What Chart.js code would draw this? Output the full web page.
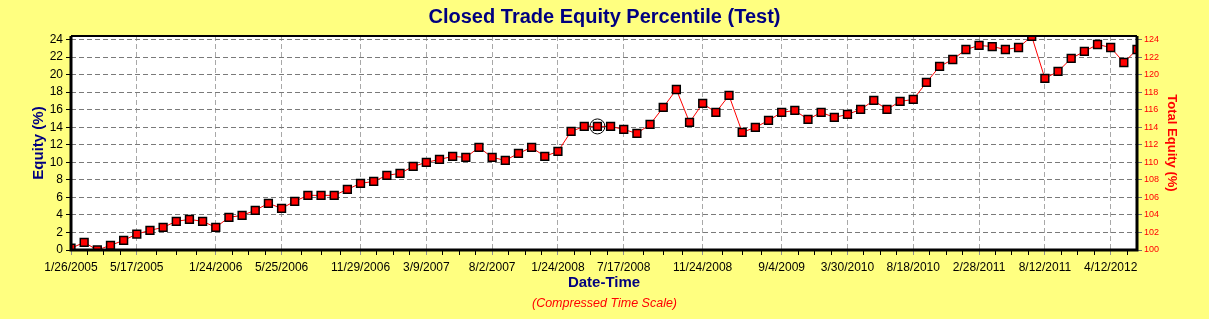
<!DOCTYPE html>
<html><head><meta charset="utf-8">
<script src="https://cdn.jsdelivr.net/npm/chart.js@4/dist/chart.umd.min.js"></script>
<style>html,body{margin:0;padding:0;background:#ffff80;}#wrap{width:1209px;height:319px;}</style>
</head><body><div id="wrap"><canvas id="c" width="1209" height="319"></canvas></div>
<script>
// Equity (%) per closed trade, in order
const equity = [
  0.20, 0.87, 0.00, 0.53, 1.10, 1.82, 2.24, 2.58, 3.27, 3.49,
  3.27, 2.58, 3.72, 3.95, 4.52, 5.32, 4.75, 5.55, 6.23, 6.23,
  6.23, 6.91, 7.60, 7.82, 8.51, 8.74, 9.53, 9.99, 10.33, 10.67,
  10.56, 11.70, 10.56, 10.22, 11.01, 11.70, 10.67, 11.24, 13.52, 14.09,
  14.09, 14.09, 13.75, 13.29, 14.32, 16.25, 18.30, 14.55, 16.71, 15.69,
  17.62, 13.41, 13.98, 14.77, 15.69, 15.91, 14.89, 15.69, 15.12, 15.46,
  16.03, 17.05, 16.03, 16.94, 17.17, 19.10, 20.93, 21.72, 22.86, 23.32,
  23.20, 22.86, 23.09, 24.37, 19.56, 20.36, 21.84, 22.64, 23.43, 23.09,
  21.38, 22.86
];
// Date tick labels and the trade index where each appears
const tickDates = ["1/26/2005","5/17/2005","1/24/2006","5/25/2006","11/29/2006","3/9/2007","8/2/2007","1/24/2008",
                   "7/17/2008","11/24/2008","9/4/2009","3/30/2010","8/18/2010","2/28/2011","8/12/2011","4/12/2012"];
const tickIndex = [0,5,11,16,22,27,32,37,42,48,54,59,64,69,74,79];
const highlightIndex = 40;
const equityBase = 100; // Total Equity (%) = 100 + Equity (%)
const yMin = 0, yMax = 24.4;

const FONT = "'Liberation Sans', Arial, sans-serif";
const nPts = equity.length;
const points = equity.map((v, i) => ({x: i, y: v}));

function xTicks() {
  const t = [];
  for (let k = 0; k < tickIndex.length - 1; k++) {
    const a = tickIndex[k], b = tickIndex[k + 1];
    for (let j = 0; j < 4; j++) t.push({value: a + j * (b - a) / 4});
  }
  const last = tickIndex[tickIndex.length - 1];
  const step = (last - tickIndex[tickIndex.length - 2]) / 4;
  for (let v = last; v <= nPts - 1 + 1e-9; v += step) t.push({value: v});
  return t;
}
function yTicks(lo, hi) {
  const t = [];
  for (let v = lo; v <= hi + 1e-9; v += 0.5) t.push({value: v});
  return t;
}

const bgPlugin = {
  id: 'bg',
  beforeDraw(chart) {
    const {ctx, chartArea: a} = chart;
    ctx.save();
    ctx.fillStyle = '#ffff80';
    ctx.fillRect(0, 0, chart.width, chart.height);
    ctx.fillStyle = '#ffffff';
    ctx.fillRect(a.left, a.top, a.right - a.left, a.bottom - a.top);
    ctx.restore();
  },
  afterDatasetsDraw(chart) {
    const {ctx, chartArea: a} = chart;
    ctx.save();
    ctx.setLineDash([]);
    ctx.strokeStyle = '#000';
    ctx.lineWidth = 2;
    ctx.beginPath(); ctx.moveTo(a.left, a.top); ctx.lineTo(a.right, a.top); ctx.stroke();
    ctx.lineWidth = 3;
    ctx.beginPath();
    ctx.moveTo(a.left, a.top); ctx.lineTo(a.left, a.bottom); ctx.lineTo(a.right, a.bottom); ctx.lineTo(a.right, a.top);
    ctx.stroke();
    ctx.restore();
  }
};

new Chart(document.getElementById('c'), {
  type: 'line',
  data: {
    datasets: [{
      data: points,
      borderColor: '#ff0000',
      borderWidth: 1,
      pointStyle: 'rect',
      pointRadius: 5.5,
      pointBackgroundColor: '#ff0000',
      pointBorderColor: '#000000',
      pointBorderWidth: 1.5,
      tension: 0,
      clip: 0,
      yAxisID: 'y',
      order: 2
    }, {
      data: [{x: highlightIndex, y: equity[highlightIndex]}],
      showLine: false,
      pointStyle: 'circle',
      pointRadius: 7.5,
      pointBackgroundColor: 'rgba(0,0,0,0)',
      pointBorderColor: '#000000',
      pointBorderWidth: 1,
      yAxisID: 'y',
      order: 1
    }]
  },
  options: {
    responsive: false,
    devicePixelRatio: 1,
    animation: false,
    layout: {padding: 0},
    plugins: {
      legend: {display: false},
      tooltip: {enabled: false},
      title: {
        display: true,
        text: 'Closed Trade Equity Percentile (Test)',
        color: '#000080',
        font: {family: FONT, size: 20, weight: 'bold', lineHeight: 1.2},
        padding: {top: 5, bottom: 7}
      },
      subtitle: {
        display: true,
        position: 'bottom',
        text: '(Compressed Time Scale)',
        color: '#ff0000',
        font: {family: FONT, size: 12.5, style: 'italic', lineHeight: 1.2},
        padding: {top: 0, bottom: 8}
      }
    },
    scales: {
      x: {
        type: 'linear',
        position: 'bottom',
        min: 0, max: nPts - 1,
        afterBuildTicks(s) { s.ticks = xTicks(); },
        afterFit(s) { s.height = 46; },
        border: {display: false, dash: [5, 3]},
        grid: {
          color: c => tickIndex.includes(c.tick && c.tick.value) ? '#a8a8a8' : 'rgba(0,0,0,0)',
          tickColor: c => tickIndex.includes(c.tick && c.tick.value) ? '#909090' : '#000000',
          tickLength: 5,
          lineWidth: 1,
          tickBorderDash: []
        },
        ticks: {
          autoSkip: false, maxRotation: 0, minRotation: 0,
          padding: 5,
          color: '#000',
          font: {family: FONT, size: 12},
          callback: v => { const k = tickIndex.indexOf(v); return k >= 0 ? tickDates[k] : ''; }
        },
        title: {
          display: true, text: 'Date-Time', color: '#000080',
          font: {family: FONT, size: 15, weight: 'bold', lineHeight: 1.2},
          padding: {top: 0, bottom: 4}
        }
      },
      y: {
        type: 'linear',
        position: 'left',
        min: yMin, max: yMax,
        afterBuildTicks(s) { s.ticks = yTicks(0, 24); },
        afterFit(s) { s.width = 71; },
        border: {display: false, dash: [5, 3]},
        grid: {
          color: c => (c.tick && c.tick.value % 2 === 0 && c.tick.value > 0) ? '#7a7a7a' : 'rgba(0,0,0,0)',
          tickColor: '#000',
          tickLength: 5,
          tickBorderDash: []
        },
        ticks: {
          padding: 3,
          color: '#000',
          font: {family: FONT, size: 12},
          callback: v => (v % 2 === 0 ? String(v) : '')
        },
        title: {
          display: true, text: 'Equity (%)', color: '#000080',
          font: {family: FONT, size: 15, weight: 'bold', lineHeight: 1.2},
          padding: {top: 30, bottom: 0}
        }
      },
      y2: {
        type: 'linear',
        position: 'right',
        min: yMin + equityBase, max: yMax + equityBase,
        afterBuildTicks(s) { s.ticks = yTicks(yMin + equityBase, 24 + equityBase); },
        afterFit(s) { s.width = 72; },
        border: {display: false},
        grid: {drawOnChartArea: false, tickColor: '#707070', tickLength: 5},
        ticks: {
          padding: 2,
          color: '#ff0000',
          font: {family: FONT, size: 9},
          callback: v => (v % 2 === 0 ? String(v) : '')
        },
        title: {
          display: true, text: 'Total Equity (%)', color: '#ff0000',
          font: {family: FONT, size: 13, weight: 'bold', lineHeight: 1.2},
          padding: {top: 30, bottom: 0}
        }
      }
    }
  },
  plugins: [bgPlugin]
});
</script>
</body></html>
